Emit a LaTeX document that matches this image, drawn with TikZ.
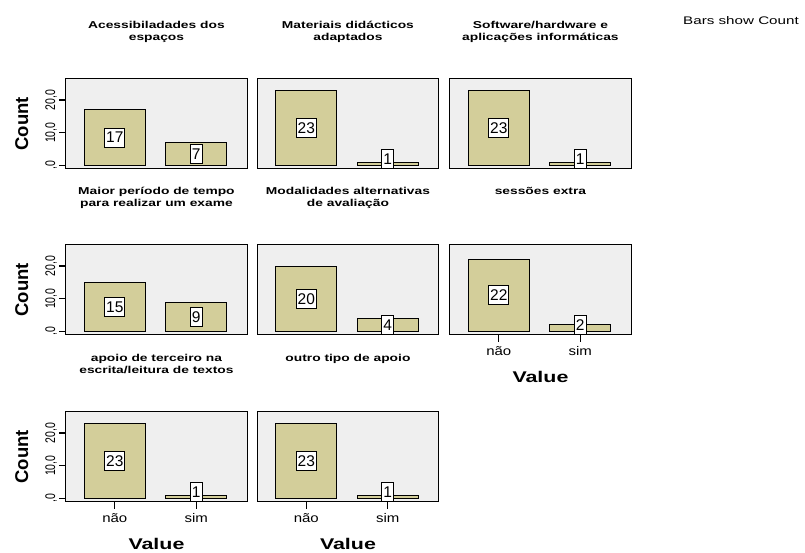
\documentclass[tikz,border=0pt]{standalone}
\usepackage{fontspec}
\setmainfont{Liberation Sans}
\newfontfamily\widesans[FakeStretch=1.38]{Liberation Sans}
\newfontfamily\midsans[FakeStretch=1.2]{Liberation Sans}
\newfontfamily\narrowsans[FakeStretch=0.75]{Liberation Sans}
\usepackage{tikz}

\definecolor{barfill}{RGB}{211,206,154}
\definecolor{panelgray}{RGB}{239,239,239}

\begin{document}
\begin{tikzpicture}[x=1pt,y=1pt,
    panel/.style={draw=black,line width=1.4pt,fill=panelgray,minimum width=181.5pt,minimum height=90pt,inner sep=0pt,anchor=north west},
    bar/.style={draw=black,line width=0.9pt,fill=barfill},
    countbox/.style={draw=black,fill=white,line width=0.9pt,inner xsep=1.5pt,inner ysep=0pt,minimum height=19pt,font=\fontsize{15.5}{15.5}\selectfont},
    paneltitle/.style={font=\widesans\bfseries\fontsize{10}{12}\selectfont,align=center,anchor=north,inner sep=0pt},
    axistick/.style={line width=1.2pt},
    ticklabel/.style={rotate=90,anchor=south,inner sep=1pt,font=\narrowsans\fontsize{14}{14}\selectfont},
    catlabel/.style={anchor=base,inner sep=0pt,font=\midsans\fontsize{12.5}{12.5}\selectfont},
    ytitle/.style={rotate=90,inner sep=0pt,font=\bfseries\fontsize{18.5}{18.5}\selectfont},
    xtitle/.style={anchor=base,inner sep=0pt,font=\widesans\bfseries\fontsize{15.5}{15.5}\selectfont}]
  \useasboundingbox (0,0) rectangle (805,-553);

  % panels with the two bars (no / sim) and their counts
  \foreach \p/\lx/\ty/\va/\vb in {pa/65/78/17/7, pb/256.5/78/23/1, pc/449/78/23/1,
      pd/65/244/15/9, pe/256.5/244/20/4, pf/449/244/22/2,
      pg/65/411/23/1, ph/256.5/411/23/1}
  {
    \node[panel] (\p) at (\lx,-\ty) {};
    \pgfmathsetmacro\ha{\va*3.27}
    \pgfmathsetmacro\hb{\vb*3.27}
    \pgfmathsetmacro\la{max(\ha/2,6.7)}
    \pgfmathsetmacro\lb{max(\hb/2,6.7)}
    \draw[bar] ([shift={(19.3,4)}]\p.south west) rectangle ++(61,\ha);
    \draw[bar] ([shift={(100.7,4)}]\p.south west) rectangle ++(61,\hb);
    \node[countbox] (\p-a) at ([shift={(49.8,4+\la)}]\p.south west) {\va};
    \node[countbox] (\p-b) at ([shift={(131.2,4+\lb)}]\p.south west) {\vb};
  }

  % titles above the panels
  \foreach \p/\ttl in {pa/{Acessibiladades dos\\espaços},
      pb/{Materiais didácticos\\adaptados},
      pc/{Software/hardware e\\aplicações informáticas},
      pd/{Maior período de tempo\\para realizar um exame},
      pe/{Modalidades alternativas\\de avaliação},
      pf/{sessões extra},
      pg/{apoio de terceiro na\\escrita/leitura de textos},
      ph/{outro tipo de apoio}}
    \node[paneltitle] (\p-t) at ([yshift=57pt]\p.north) {\ttl};

  % count axis
  \foreach \p in {pa,pd,pg}{
    \foreach \v/\lab in {0/{,0},10/{10,0},20/{20,0}}
      \draw[axistick] ([shift={(0,4+\v*3.27)}]\p.south west) -- ++(-6.5,0)
        node[ticklabel] (\p-y\v) {\lab};
    \node[ytitle] (\p-ylab) at ([xshift=-43.3pt]\p.west) {Count};
  }

  % value axis
  \foreach \p in {pf,pg,ph}{
    \draw[axistick] ([xshift=49.8pt]\p.south west) -- ++(0,-7);
    \draw[axistick] ([xshift=131.2pt]\p.south west) -- ++(0,-7);
    \node[catlabel] (\p-no) at ([shift={(49.8,-20.5)}]\p.south west) {não};
    \node[catlabel] (\p-yes) at ([shift={(131.2,-20.5)}]\p.south west) {sim};
    \node[xtitle] (\p-xlab) at ([yshift=-47pt]\p.south) {Value};
  }

  \node[anchor=base,inner sep=0pt,font=\widesans\fontsize{11}{11}\selectfont] (note) at (741,-25) {Bars show Count};
\end{tikzpicture}
\end{document}
